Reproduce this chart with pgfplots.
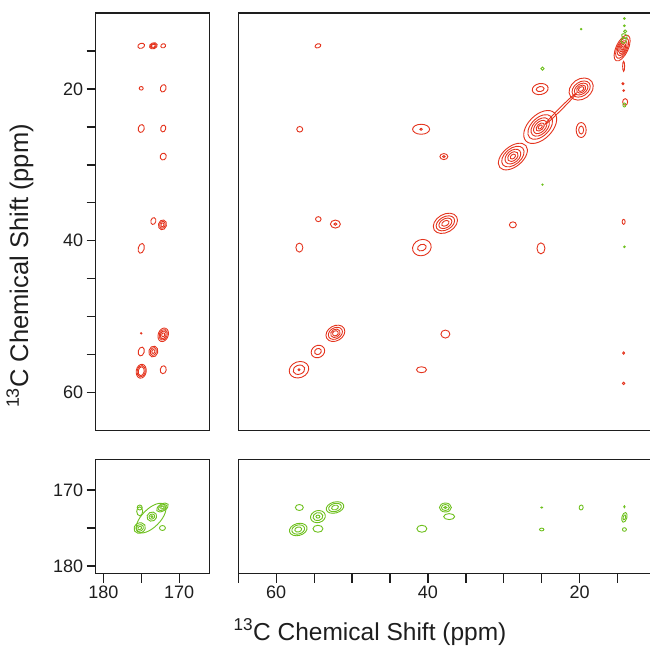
\documentclass[border=0pt]{standalone}
\usepackage{pgfplots}
\pgfplotsset{compat=1.18}
\usepackage{pgfplotstable}
\usepackage{fontspec}
\setmainfont{Liberation Sans}
\definecolor{cred}{RGB}{228,52,30}
\definecolor{cgreen}{RGB}{110,192,30}
\definecolor{axc}{RGB}{30,30,30}
\pgfdeclareplotmark{ring}{%
  \pgfmathsetmacro{\eax}{\erx*cos(\erot)}%
  \pgfmathsetmacro{\eay}{\erx*sin(\erot)}%
  \pgfmathsetmacro{\ebx}{-\ery*sin(\erot)}%
  \pgfmathsetmacro{\eby}{\ery*cos(\erot)}%
  \pgfpathellipse{\pgfpointorigin}{\pgfpoint{\eax pt}{\eay pt}}{\pgfpoint{\ebx pt}{\eby pt}}%
  \pgfusepathqstroke}

% top-right panel, red (x y rx ry rot)
\pgfplotstableread{
x y rx ry rot
54.5 14.3 3 2 20
56.9 25.3 3 2.8 0
40.9 25.3 8.5 5 0
40.9 25.3 1.2 1 0
54.45 37.15 2.8 2.5 0
52.2 37.8 5 4 0
52.2 37.8 1.5 1.2 0
56.95 40.9 3.5 4.5 0
40.8 40.9 9.5 8 20
40.8 40.9 4.5 3.2 20
37.7 37.7 13 9 30
37.7 37.7 10 6.5 30
37.7 37.7 7 4.5 30
37.7 37.7 4 2.5 30
52.2 52.2 10 7.5 30
52.2 52.2 7.5 5.5 30
52.2 52.2 5 4 30
52.2 52.2 3 2.5 30
54.5 54.6 7 6 30
54.5 54.6 3.5 3 30
57.0 57.0 10 8 20
57.0 57.0 6 4.5 20
57.0 57.0 1 1 0
37.7 52.3 4.5 4 0
40.85 57.0 5 3 0
25.2 20.0 8 5.5 10
25.2 20.0 4 2.5 10
19.8 20.0 13 10 35
19.8 20.0 10 7 35
19.8 20.0 7.5 5 35
19.8 20.0 5 3.5 35
19.8 20.0 3 2 35
22.5 22.6 22 1.2 45
25.2 25.0 20 12 45
25.2 25.0 15 9 45
25.2 25.0 11 7 45
25.2 25.0 8 5 45
25.2 25.0 5 3 45
25.2 25.0 2.5 1.5 45
19.8 25.4 5 7.5 0
19.8 25.4 2.5 4 0
28.8 28.9 17 10 40
28.8 28.9 13 8 40
28.8 28.9 9 6 40
28.8 28.9 6 4 40
28.8 28.9 3 2 40
37.9 28.9 4 3 0
37.9 28.9 1.3 1 0
14.4 14.6 14 6 65
14.4 14.6 11 5 65
14.4 14.6 8 4 65
14.4 14.6 6 3 70
14.4 14.6 4 2 70
14.4 14.6 2 1 70
14.2 17.0 5 1 90
14.3 19.3 1 1 0
14.2 20.2 0.8 0.8 0
14.0 21.7 2.5 3.3 0
14.2 37.5 1.5 2.5 0
14.2 54.8 1 1.2 0
14.2 58.8 1.2 1.2 0
28.8 37.9 3.5 3 0
25.1 41.0 4 5.5 0
}\redTR

\pgfplotstableread{
x y rx ry rot
14.1 10.7 0.8 0.8 0
14.1 11.65 0.8 0.8 0
14.1 13.0 2 3 60
14.2 13.6 3 2.5 60
14.0 12.4 1.5 1.5 0
19.8 12.1 0.7 0.7 0
24.9 17.3 1.6 1.6 0
24.9 32.6 0.7 0.7 0
14.1 22.1 1.5 2 0
14.1 40.8 0.8 0.8 0
}\greenTR

\pgfplotstableread{
x y rx ry rot
175.0 14.3 3.5 2.5 20
173.4 14.3 4 3 20
173.4 14.3 3 2.2 20
173.4 14.3 2 1.5 20
172.1 14.3 2.5 2 20
175.0 19.9 2 1.8 0
172.1 19.9 2.8 3.8 -20
175.0 25.2 3 4 -15
172.1 25.2 2.5 3.5 -15
172.1 28.9 3 3.5 -20
173.4 37.4 2.5 3.5 -15
172.2 37.9 4 5 -15
172.2 37.9 2.8 3.5 -15
172.2 37.9 1.5 2 -15
175.0 41.0 3 5 -15
175.0 52.2 0.7 0.7 0
172.1 52.4 5 7 -20
172.1 52.4 4 5.5 -20
172.1 52.4 2.8 4 -20
172.1 52.4 1.5 2 -20
175.0 54.6 3 4.5 -15
173.4 54.6 4.5 5.5 -15
173.4 54.6 3 4 -15
173.4 54.6 1.5 2 -15
175.0 57.2 5 7 -10
175.0 57.2 4 5.8 -10
175.0 57.2 3 4.5 -10
172.1 57.0 3 4 -10
}\redTL

\pgfplotstableread{
x y rx ry rot
173.7 173.7 19 9 45
175.2 175.0 6 5 30
175.2 175.0 4 3.2 30
175.2 175.0 2 1.5 30
173.6 173.5 5 4.5 30
173.6 173.5 3 2.5 30
173.6 173.5 1 1 0
172.2 172.3 6.5 3.5 30
172.2 172.3 4.5 2.5 30
172.2 172.3 2 1.2 30
175.2 172.3 2.5 2.5 0
175.2 172.8 3 4.5 0
172.2 175.0 3 2.5 0
}\greenBL

\pgfplotstableread{
x y rx ry rot
56.95 172.3 4 3 0
54.5 173.5 7.5 6 15
54.5 173.5 5 4 15
54.5 173.5 2 1.5 0
52.25 172.3 9 5.5 15
52.25 172.3 6.5 4 15
52.25 172.3 3.5 2.3 15
57.1 175.2 9 6 15
57.1 175.2 6.5 4.5 15
57.1 175.2 3.5 2.5 15
54.5 175.1 5 3.5 0
40.8 175.1 5 3.5 0
37.7 172.3 6 4.5 0
37.7 172.3 4 3 0
37.7 172.3 1.5 1 0
37.2 173.5 5.5 3 0
25.0 172.3 0.8 0.6 0
25.0 175.2 2.2 1.4 0
19.8 172.3 2 2.5 -10
14.1 173.6 2.5 5 -15
14.1 173.6 1.2 2.5 -15
14.1 172.2 0.7 1 0
14.1 175.2 2 1.8 0
}\greenBR

\pgfplotsset{
  panel/.style={scale only axis, anchor=north west, x dir=reverse, y dir=reverse,
    axis line style={axc, line width=1.5pt},
    tick style={axc, line width=1.3pt},
    major tick style={axc, line width=1.3pt},
    minor tick style={axc, line width=1.3pt},
    tick align=outside, major tick length=9pt, minor tick length=9pt,
    /pgf/number format/assume math mode=true,
    ticklabel style={font=\fontsize{18}{18}\selectfont, text=axc},
    xtick pos=bottom, ytick pos=left},
  rings/.style={scatter, only marks, mark=ring, line width=0.9pt, color=#1,
    scatter/@pre marker code/.code={}, scatter/@post marker code/.code={},
    visualization depends on={\thisrow{rx}\as\erx},
    visualization depends on={\thisrow{ry}\as\ery},
    visualization depends on={\thisrow{rot}\as\erot}},
}

\begin{document}
\begin{tikzpicture}
% top-left
\begin{axis}[panel, at={(95.7pt,-13.2pt)}, width=113.8pt, height=417.2pt,
  xmin=166, xmax=181, ymin=10, ymax=65,
  xtick=\empty, ytick={20,40,60}, minor ytick={15,25,30,35,45,50,55}]
\addplot[rings=cred] table[x=x,y=y] {\redTL};
\end{axis}
% top-right
\begin{axis}[panel, at={(238.3pt,-13.2pt)}, width=417.2pt, height=417.2pt,
  xmin=10, xmax=65, ymin=10, ymax=65, xtick=\empty, ytick=\empty]
\addplot[rings=cred] table[x=x,y=y] {\redTR};
\addplot[rings=cgreen] table[x=x,y=y] {\greenTR};
\end{axis}
% bottom-left
\begin{axis}[panel, at={(95.7pt,-459.7pt)}, width=113.8pt, height=113.8pt,
  xmin=166, xmax=181, ymin=166, ymax=181,
  xtick={170,180}, minor xtick={175}, ytick={170,180}, minor ytick={175}]
\addplot[rings=cgreen] table[x=x,y=y] {\greenBL};
\end{axis}
% bottom-right
\begin{axis}[panel, at={(238.3pt,-459.7pt)}, width=417.2pt, height=113.8pt,
  xmin=10, xmax=65, ymin=166, ymax=181,
  xtick={20,40,60}, minor xtick={15,25,30,35,45,50,55,65}, ytick=\empty]
\addplot[rings=cgreen] table[x=x,y=y] {\greenBR};
\end{axis}
\node[anchor=base, font=\fontsize{24.5}{24.5}\selectfont, text=axc] at (370pt,-640pt) {\textsuperscript{13}C Chemical Shift (ppm)};
\node[anchor=base, rotate=90, font=\fontsize{25.5}{25.5}\selectfont, text=axc] at (28pt,-266pt) {\textsuperscript{13}C Chemical Shift (ppm)};
\pgfresetboundingbox
\useasboundingbox (0pt,0pt) rectangle (650pt,-650pt);
\end{tikzpicture}
\end{document}
